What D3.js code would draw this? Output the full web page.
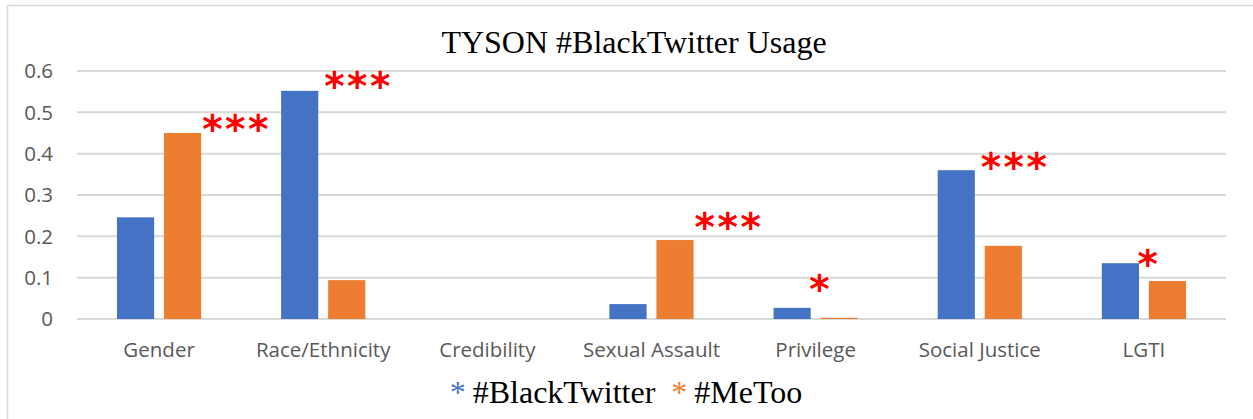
<!DOCTYPE html>
<meta charset="utf-8">
<style>
    body { margin: 0; background: #fff; }
    .grid line { stroke: #d9d9d9; stroke-width: 2px; }
    .ytick text, .xtick text { fill: #595959; font-family: "Open Sans", sans-serif; font-size: 20.5px; }
    .title, .legend text { font-family: "Liberation Serif", "Times New Roman", serif; }
    .stars { fill: #ff0000; font-family: "DejaVu Sans", sans-serif; font-weight: bold; }
</style>
<svg width="1253" height="419"></svg>
<script src="https://cdnjs.cloudflare.com/ajax/libs/d3/7.8.5/d3.min.js"></script>
<script>
    // data
    var categories = ["Gender", "Race/Ethnicity", "Credibility", "Sexual Assault", "Privilege", "Social Justice", "LGTI"];
    var seriesNames = ["#BlackTwitter", "#MeToo"];
    var blackTwitter = [0.246, 0.552, 0, 0.036, 0.027, 0.36, 0.135];
    var meToo = [0.45, 0.094, 0, 0.191, 0.003, 0.177, 0.092];
    var yTicks = [0, 0.1, 0.2, 0.3, 0.4, 0.5, 0.6];
    // significance marks: category, marks, height (in y units), placement
    var starCats = ["Gender", "Race/Ethnicity", "Sexual Assault", "Privilege", "Social Justice", "LGTI"];
    var starText = ["***", "***", "***", "*", "***", "*"];
    var starLevel = [0.476, 0.58, 0.239, 0.089, 0.384, 0.15];
    var starPlace = ["beside", "over", "beside", "over", "over", "over"];

    var colors = { "#BlackTwitter": "#4472c4", "#MeToo": "#ed7d31" };

    var svg = d3.select("svg");
    var plotLeft = 77, plotRight = 1226, plotTop = 71, plotBottom = 319;

    // chart frame
    svg.append("rect")
        .attr("x", 7.5).attr("y", 5.5)
        .attr("width", 1300).attr("height", 500)
        .attr("fill", "none").attr("stroke", "#d9d9d9").attr("stroke-width", 1.5);

    var x = d3.scaleBand().domain(categories).range([plotLeft, plotRight]);
    var x1 = d3.scaleBand().domain(seriesNames).range([0, x.bandwidth()])
        .paddingInner(0.21).paddingOuter(0.85);
    var y = d3.scaleLinear().domain([0, 0.6]).range([plotBottom, plotTop]);

    var grid = svg.append("g").attr("class", "grid");
    grid.selectAll("line").data(yTicks).enter().append("line")
        .attr("x1", plotLeft).attr("x2", plotRight)
        .attr("y1", function(d) { return y(d); })
        .attr("y2", function(d) { return y(d); });

    svg.append("g").attr("class", "ytick")
        .selectAll("text").data(yTicks).enter().append("text")
        .attr("x", 53)
        .attr("y", function(d) { return y(d); })
        .attr("dy", "0.35em")
        .attr("text-anchor", "end")
        .text(function(d) { return d === 0 ? "0" : d3.format(".1f")(d); });

    svg.append("g").attr("class", "xtick")
        .selectAll("text").data(categories).enter().append("text")
        .attr("x", function(d) { return x(d) + x.bandwidth() / 2; })
        .attr("y", 357)
        .attr("text-anchor", "middle")
        .text(function(d) { return d; });

    var rows = categories.map(function(c, i) {
        return { cat: c, values: [
            { name: "#BlackTwitter", value: blackTwitter[i] },
            { name: "#MeToo", value: meToo[i] }
        ] };
    });

    var groups = svg.append("g").selectAll("g").data(rows).enter().append("g")
        .attr("transform", function(d) { return "translate(" + x(d.cat) + ",0)"; });

    groups.selectAll("rect").data(function(d) { return d.values; }).enter().append("rect")
        .attr("x", function(d) { return x1(d.name); })
        .attr("width", x1.bandwidth())
        .attr("y", function(d) { return y(d.value); })
        .attr("height", function(d) { return plotBottom - y(d.value); })
        .attr("fill", function(d) { return colors[d.name]; });

    // red significance stars
    var starSize = 39;
    svg.append("g").selectAll("text").data(starCats).enter().append("text")
        .attr("class", "stars")
        .attr("font-size", starSize)
        .attr("letter-spacing", 2.5)
        .attr("text-anchor", function(d, i) { return starText[i].length > 1 ? "start" : "middle"; })
        .attr("x", function(d, i) {
            var oLeft = x(d) + x1("#MeToo");
            if (starPlace[i] === "beside") return oLeft + x1.bandwidth() + 1;
            return starText[i].length > 1 ? oLeft - 4 : oLeft;
        })
        .attr("y", function(d, i) { return y(starLevel[i]) + starSize * 0.53; })
        .text(function(d, i) { return starText[i]; });

    // title
    svg.append("text").attr("class", "title")
        .attr("x", 634).attr("y", 53)
        .attr("text-anchor", "middle")
        .attr("font-size", 32)
        .attr("fill", "#000")
        .text("TYSON #BlackTwitter Usage");

    // legend
    var legend = svg.append("g").attr("class", "legend");
    var lx = 0;
    seriesNames.forEach(function(name, i) {
        var mark = legend.append("text").attr("x", lx).attr("y", 403)
            .attr("font-size", 32).attr("fill", colors[name]).text("*");
        lx += mark.node().getComputedTextLength() + 7;
        var lab = legend.append("text").attr("x", lx).attr("y", 403)
            .attr("font-size", 32).attr("fill", "#000").text(name);
        lx += lab.node().getComputedTextLength() + (i === 0 ? 16 : 0);
    });
    legend.attr("transform", "translate(" + (626 - lx / 2) + ",0)");
</script>
